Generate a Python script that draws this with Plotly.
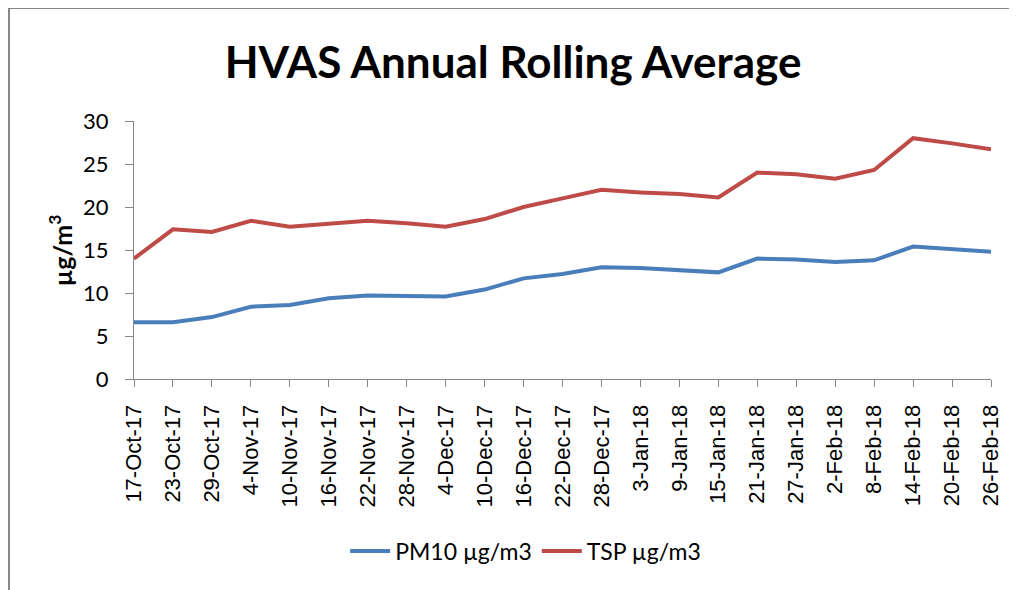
import plotly.graph_objects as go

dates = ["17-Oct-17", "23-Oct-17", "29-Oct-17", "4-Nov-17", "10-Nov-17", "16-Nov-17",
         "22-Nov-17", "28-Nov-17", "4-Dec-17", "10-Dec-17", "16-Dec-17", "22-Dec-17",
         "28-Dec-17", "3-Jan-18", "9-Jan-18", "15-Jan-18", "21-Jan-18", "27-Jan-18",
         "2-Feb-18", "8-Feb-18", "14-Feb-18", "20-Feb-18", "26-Feb-18"]

pm10 = [6.6, 6.6, 7.2, 8.4, 8.6, 9.4, 9.7, 9.7, 9.6, 10.4, 11.7, 12.2,
        13.0, 12.9, 12.7, 12.4, 14.0, 13.9, 13.6, 13.8, 15.4, 15.1, 14.8]
tsp = [14.0, 17.4, 17.1, 18.4, 17.7, 18.1, 18.4, 18.1, 17.7, 18.6, 20.0, 21.0,
       22.0, 21.7, 21.5, 21.1, 24.0, 23.8, 23.3, 24.3, 28.0, 27.4, 26.7]

y_ticks = [0, 5, 10, 15, 20, 25, 30]

fig = go.Figure()
fig.add_trace(go.Scatter(x=dates, y=pm10, mode="lines", name="PM10 µg/m3",
                         line=dict(color="#4a7ebb", width=4)))
fig.add_trace(go.Scatter(x=dates, y=tsp, mode="lines", name="TSP µg/m3",
                         line=dict(color="#be4b48", width=4)))

axis_col = "#868686"
fig.update_layout(
    width=1017, height=590,
    margin=dict(l=126, r=34, t=113, b=219),
    paper_bgcolor="white", plot_bgcolor="white",
    title=dict(text="<b>HVAS Annual Rolling Average</b>", x=0.4966, xref="container",
               y=0.908, yref="container", xanchor="center", yanchor="middle",
               font=dict(family="Lato", size=44, color="black")),
    xaxis=dict(type="category", range=[0, 22], showgrid=False, showline=True,
               linecolor=axis_col, linewidth=1, ticks="outside", ticklen=7,
               tickcolor=axis_col, tickangle=-90, ticklabelstandoff=9,
               tickfont=dict(family="Liberation Sans", size=22, color="black")),
    yaxis=dict(range=[0, 30], tickvals=y_ticks, showgrid=False, showline=True,
               linecolor=axis_col, linewidth=1, ticks="outside", ticklen=8,
               tickcolor=axis_col, zeroline=False, ticklabelstandoff=12,
               tickfont=dict(family="Lato", size=22, color="black")),
    legend=dict(orientation="h", x=0.457, y=-0.667, xanchor="center", yanchor="middle",
                font=dict(family="Lato", size=23, color="black"), itemwidth=40,
                bgcolor="rgba(0,0,0,0)"),
    annotations=[dict(text="<b>µg/m<sup>3</sup></b>", xref="paper", yref="paper",
                      x=-0.086, y=0.5, textangle=-90, showarrow=False,
                      xanchor="center", yanchor="middle",
                      font=dict(family="Lato", size=25, color="black"))],
    shapes=[dict(type="rect", xref="paper", yref="paper", x0=-0.1459, y0=-0.85,
                 x1=1.08, y1=1.438, line=dict(color=axis_col, width=2))],
)

fig.write_html("out.html")
